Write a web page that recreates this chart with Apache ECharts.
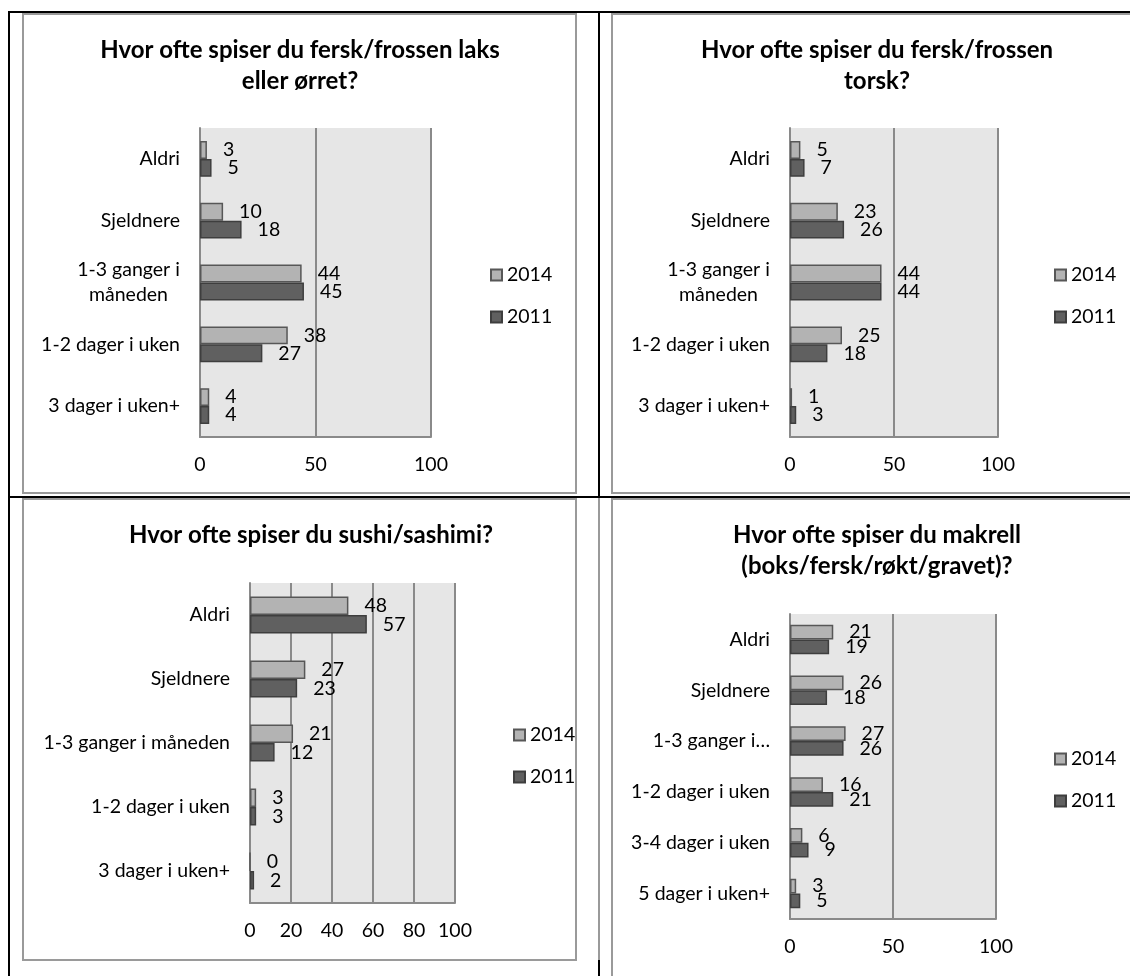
<!DOCTYPE html>
<html>
<head>
<meta charset="utf-8">
<script src="https://cdn.jsdelivr.net/npm/echarts@6/dist/echarts.min.js"></script>
<style>
  html, body { margin: 0; padding: 0; background: #ffffff; }
  #chart { width: 1130px; height: 976px; }
</style>
</head>
<body>
<div id="chart"></div>
<script>
// Survey answers in percent, two survey years per question
const seriesNames = ['2014', '2011'];

const laksTitle = 'Hvor ofte spiser du fersk/frossen laks\neller ørret?';
const laksCategories = ['Aldri', 'Sjeldnere', '1-3 ganger i\nmåneden', '1-2 dager i uken', '3 dager i uken+'];
const laks2014 = [3, 10, 44, 38, 4];
const laks2011 = [5, 18, 45, 27, 4];

const torskTitle = 'Hvor ofte spiser du fersk/frossen\ntorsk?';
const torskCategories = ['Aldri', 'Sjeldnere', '1-3 ganger i\nmåneden', '1-2 dager i uken', '3 dager i uken+'];
const torsk2014 = [5, 23, 44, 25, 1];
const torsk2011 = [7, 26, 44, 18, 3];

const sushiTitle = 'Hvor ofte spiser du sushi/sashimi?';
const sushiCategories = ['Aldri', 'Sjeldnere', '1-3 ganger i måneden', '1-2 dager i uken', '3 dager i uken+'];
const sushi2014 = [48, 27, 21, 3, 0];
const sushi2011 = [57, 23, 12, 3, 2];

const makrellTitle = 'Hvor ofte spiser du makrell\n(boks/fersk/røkt/gravet)?';
const makrellCategories = ['Aldri', 'Sjeldnere', '1-3 ganger i…', '1-2 dager i uken', '3-4 dager i uken', '5 dager i uken+'];
const makrell2014 = [21, 26, 27, 16, 6, 3];
const makrell2011 = [19, 18, 26, 21, 9, 5];

// Value axis: 0..100 with the step used by each panel
const axisMax = 100;
const coarseStep = 50;
const fineStep = 20;

// ---- styling ----
const FONT = 'Lato, "Open Sans", sans-serif';
const TEXT = '#000000';
const PLOT_BG = '#e6e6e6';
const RULE = '#8a8a8a';
const FILL_2014 = '#b3b3b3', EDGE_2014 = '#575757';
const FILL_2011 = '#606060', EDGE_2011 = '#3e3e3e';
const LABEL_SIZE = 19.5;
const TITLE_SIZE = 24;

const measureCtx = document.createElement('canvas').getContext('2d');
function textWidth(s, size, weight) {
  measureCtx.font = (weight || 'normal') + ' ' + size + 'px ' + FONT;
  return measureCtx.measureText(s).width;
}

// Layout of the four framed panels
const panels = [
  { title: laksTitle, cats: laksCategories, a: laks2014, b: laks2011, step: coarseStep,
    titleX: 300, titleY: 35, grid: { left: 200, top: 128, width: 231, height: 309 }, legend: { left: 490, top: 265 } },
  { title: torskTitle, cats: torskCategories, a: torsk2014, b: torsk2011, step: coarseStep,
    titleX: 877, titleY: 35, grid: { left: 790, top: 128, width: 208, height: 309 }, legend: { left: 1054, top: 265 } },
  { title: sushiTitle, cats: sushiCategories, a: sushi2014, b: sushi2011, step: fineStep,
    titleX: 311, titleY: 520, grid: { left: 250, top: 583, width: 205, height: 320 }, legend: { left: 513, top: 725 } },
  { title: makrellTitle, cats: makrellCategories, a: makrell2014, b: makrell2011, step: coarseStep,
    titleX: 877, titleY: 520, grid: { left: 790, top: 614, width: 206, height: 305 }, legend: { left: 1054, top: 749 } }
];

const titles = [], legends = [], grids = [], xAxes = [], yAxes = [], series = [];

panels.forEach((p, i) => {
  titles.push({
    text: p.title, left: p.titleX, top: p.titleY, textAlign: 'center', padding: 0,
    textStyle: { fontFamily: FONT, fontWeight: 'bold', fontSize: TITLE_SIZE, lineHeight: 31, color: TEXT }
  });
  legends.push({
    data: seriesNames, orient: 'vertical', left: p.legend.left, top: p.legend.top, padding: 0,
    itemWidth: 11, itemHeight: 11, itemGap: 22, icon: 'rect', selectedMode: false,
    textStyle: { fontFamily: FONT, fontSize: LABEL_SIZE, lineHeight: 20, color: TEXT }
  });
  grids.push(Object.assign({ show: true, backgroundColor: PLOT_BG, borderWidth: 0 }, p.grid));

  // two-line category names are centred under each other, as one right-aligned block
  const wrapped = p.cats.filter(c => c.indexOf('\n') >= 0);
  let blockW = 0;
  wrapped.forEach(c => c.split('\n').forEach(s => { blockW = Math.max(blockW, textWidth(s, LABEL_SIZE)); }));

  xAxes.push({
    type: 'value', gridIndex: i, min: 0, max: axisMax, interval: p.step,
    axisLine: { show: true, lineStyle: { color: RULE, width: 2 } },
    axisTick: { show: false },
    splitLine: { show: true, lineStyle: { color: RULE, width: 2 } },
    axisLabel: { margin: 18, fontFamily: FONT, fontSize: LABEL_SIZE, color: TEXT }
  });
  yAxes.push({
    type: 'category', gridIndex: i, data: p.cats, inverse: true,
    axisLine: { show: true, lineStyle: { color: RULE, width: 2 } },
    axisTick: { show: false },
    splitLine: { show: false },
    axisLabel: {
      margin: 20, fontFamily: FONT, fontSize: LABEL_SIZE, color: TEXT, lineHeight: 25,
      formatter: v => v.indexOf('\n') >= 0 ? v.split('\n').map(s => '{c|' + s + '}').join('\n') : v,
      rich: { c: { width: Math.ceil(blockW), align: 'center', fontFamily: FONT, fontSize: LABEL_SIZE, lineHeight: 25, color: TEXT } }
    }
  });

  [[p.a, FILL_2014, EDGE_2014], [p.b, FILL_2011, EDGE_2011]].forEach((s, k) => {
    series.push({
      name: seriesNames[k], type: 'bar', xAxisIndex: i, yAxisIndex: i,
      data: s[0], barGap: '0%', barCategoryGap: '42%',
      itemStyle: { color: s[1], borderColor: s[2], borderWidth: 1.5 },
      label: { show: true, position: 'right', distance: 16, fontFamily: FONT, fontSize: LABEL_SIZE, color: TEXT },
      emphasis: { disabled: true },
      animation: false
    });
  });
});

// Chart frames and the surrounding table rules
const frame = { fill: 'none', stroke: '#9a9a9a', lineWidth: 2 };
const black = { stroke: '#000000', lineWidth: 2 };
const graphics = [
  { type: 'rect', shape: { x: 23, y: 14, width: 553, height: 479 }, style: frame, silent: true, z: -1 },
  { type: 'rect', shape: { x: 612, y: 14, width: 540, height: 479 }, style: frame, silent: true, z: -1 },
  { type: 'rect', shape: { x: 23, y: 499, width: 553, height: 461 }, style: frame, silent: true, z: -1 },
  { type: 'rect', shape: { x: 612, y: 499, width: 540, height: 500 }, style: frame, silent: true, z: -1 },
  { type: 'line', shape: { x1: 9, y1: 11, x2: 9, y2: 976 }, style: black, silent: true },
  { type: 'line', shape: { x1: 8, y1: 12, x2: 1130, y2: 12 }, style: black, silent: true },
  { type: 'line', shape: { x1: 8, y1: 497, x2: 1130, y2: 497 }, style: black, silent: true },
  { type: 'line', shape: { x1: 599, y1: 11, x2: 599, y2: 497 }, style: black, silent: true },
  { type: 'line', shape: { x1: 599, y1: 498, x2: 599, y2: 960 }, style: { stroke: '#9a9a9a', lineWidth: 2 }, silent: true },
  { type: 'line', shape: { x1: 599, y1: 960, x2: 599, y2: 976 }, style: black, silent: true }
];

const chart = echarts.init(document.getElementById('chart'), null, { renderer: 'canvas' });
chart.setOption({
  backgroundColor: '#ffffff',
  animation: false,
  title: titles,
  legend: legends,
  grid: grids,
  xAxis: xAxes,
  yAxis: yAxes,
  series: series,
  graphic: graphics
});
</script>
</body>
</html>
